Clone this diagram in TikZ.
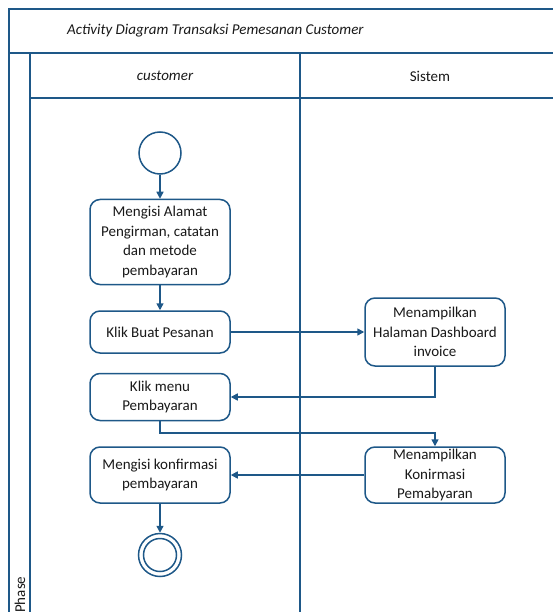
\documentclass[tikz,border=0pt]{standalone}
\usepackage{fontspec}
\setmainfont{Carlito}
\usetikzlibrary{arrows.meta}
\definecolor{lane}{RGB}{30,88,136}
\definecolor{ink}{RGB}{25,25,25}
\tikzset{
  frameline/.style={draw=lane, line width=2pt},
  action/.style={draw=lane, line width=1.5pt, rounded corners=10pt, fill=white,
    minimum width=140pt, align=center, inner sep=2pt,
    text=ink, font=\fontsize{15}{19.5}\selectfont},
  flow/.style={draw=lane, line width=1.5pt, -{Triangle[length=7pt,width=7pt]}},
  startnode/.style={circle, draw=lane, line width=1.5pt, minimum size=42pt, inner sep=0pt},
  lanelabel/.style={text=ink, font=\fontsize{15}{18}\selectfont, inner sep=0pt}
}
\begin{document}
\begin{tikzpicture}[x=1pt, y=-1pt]
\useasboundingbox (0,0) rectangle (553,612);
% frame of the diagram and its lanes
\draw[frameline] (560,9) -- (9,9) -- (9,620);
\draw[frameline] (9,53) -- (560,53);
\draw[frameline] (30,53) -- (30,620);
\draw[frameline] (30,98) -- (560,98);
\draw[frameline] (300,53) -- (300,620);
\node[lanelabel, anchor=west] (title) at (67,31) {\itshape Activity Diagram Transaksi Pemesanan Customer};
\node[lanelabel] (cust) at (165,76) {\itshape customer};
\node[lanelabel] (sys) at (430,76) {Sistem};
\node[lanelabel, rotate=90, anchor=west] (phase) at (20,613) {Phase};
% activities
\node[startnode] (start) at (160,153) {};
\node[action, minimum height=85pt] (isi) at (160,242) {Mengisi Alamat\\Pengirman, catatan\\dan metode\\pembayaran};
\node[action, minimum height=42pt] (klik) at (160,332) {Klik Buat Pesanan};
\node[action, minimum height=68pt] (dash) at (435,332) {Menampilkan\\Halaman Dashboard\\invoice};
\node[action, minimum height=47pt] (menu) at (160,397) {Klik menu\\Pembayaran};
\node[action, minimum height=56pt] (konf) at (160,475) {Mengisi konfirmasi\\pembayaran};
\node[action, minimum height=56pt] (tampil) at (435,475) {Menampilkan\\Konirmasi\\Pemabyaran};
\node[circle, draw=lane, line width=1.5pt, minimum size=43pt, inner sep=0pt] (end) at (160,555) {};
\node[circle, draw=lane, line width=1.5pt, minimum size=33pt, inner sep=0pt] (endin) at (160,555) {};
% control flow
\draw[flow] (start) -- (isi);
\draw[flow] (isi) -- (klik);
\draw[flow] (klik) -- (dash);
\draw[flow] (dash.south) |- (menu.east);
\draw[flow] (menu.south) |- (435,433) -- (tampil.north);
\draw[flow] (tampil) -- (konf);
\draw[flow] (konf) -- (end);
\end{tikzpicture}
\end{document}
